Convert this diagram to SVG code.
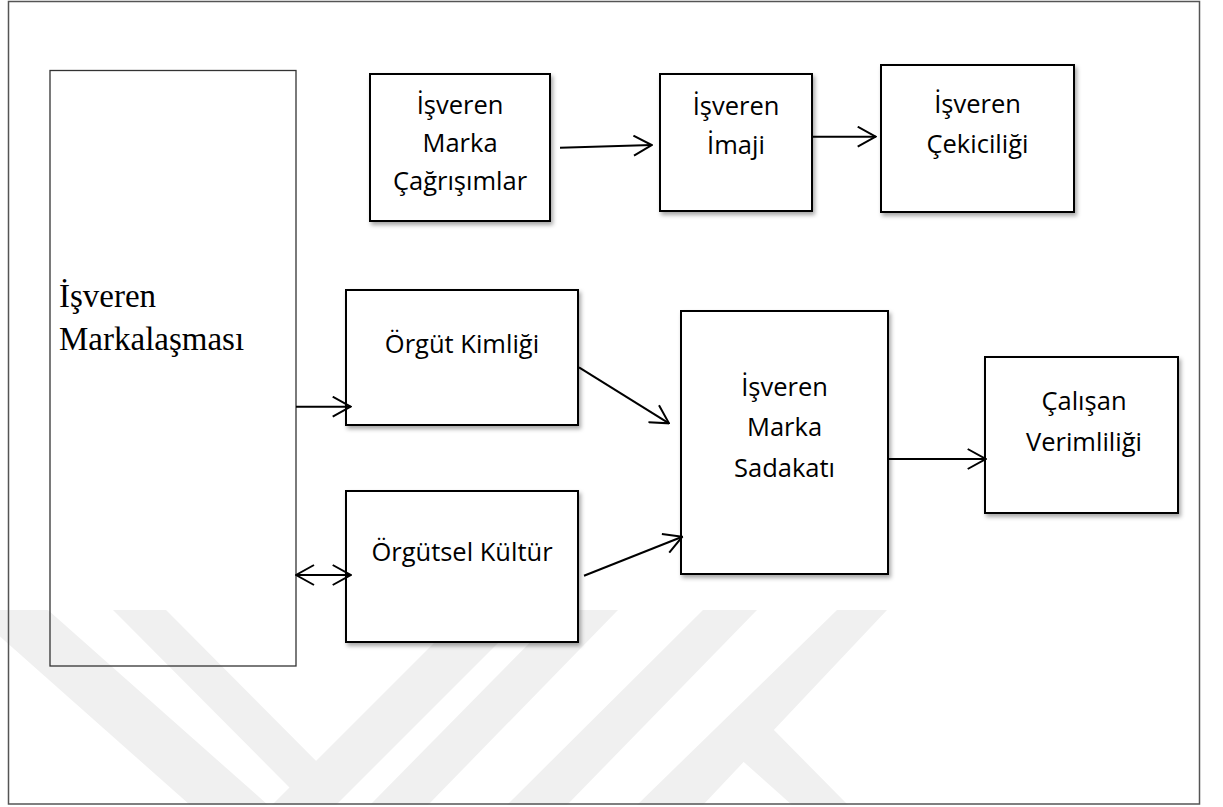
<svg xmlns="http://www.w3.org/2000/svg" width="1223" height="807" viewBox="0 0 1223 807">
  <style>
    .box { fill: #ffffff; stroke: #000000; stroke-width: 2; filter: url(#shadow); }
    .label { font-family: "Open Sans", "Liberation Sans", sans-serif; font-size: 25.5px; fill: #000000; text-anchor: middle; }
    .serif { font-family: "Liberation Serif", "Times New Roman", serif; font-size: 33px; fill: #000000; }
    .link { fill: none; stroke: #000000; stroke-width: 2; marker-end: url(#head); }
    .mark { fill: #f0f0f0; }
  </style>
  <defs>
    <filter id="shadow" x="-10%" y="-10%" width="130%" height="130%">
      <feDropShadow dx="2" dy="3" stdDeviation="2" flood-color="#000000" flood-opacity="0.35"/>
    </filter>
    <marker id="head" viewBox="0 0 20 22" refX="19" refY="11" markerWidth="20" markerHeight="22" markerUnits="userSpaceOnUse" orient="auto-start-reverse">
      <path d="M1,1 L19,11 L1,21" fill="none" stroke="#000000" stroke-width="2"/>
    </marker>
  </defs>

  <rect width="1223" height="807" fill="#ffffff"/>

  <!-- faint background emblem: diagonal bands -->
  <g id="watermark">
    <polygon class="mark" points="-30,610 48,610 268,805 190,805"/>
    <polygon class="mark" points="113,610 166,610 345,790 292,790"/>
    <polygon class="mark" points="272,805 336,805 531,610 467,610"/>
    <polygon class="mark" points="370,805 428,805 618,610 562,610"/>
    <polygon class="mark" points="507,805 567,805 757,610 703,610"/>
    <polygon class="mark" points="637,805 703,805 887,610 837,610"/>
    <polygon class="mark" points="728,748 766,722 848,805 792,805"/>
  </g>

  <!-- outer border -->
  <rect id="frame" x="8.5" y="1.5" width="1191" height="802.5" fill="none" stroke="#555555" stroke-width="1.5"/>

  <g id="isveren-markalasmasi">
    <rect x="50" y="70.5" width="246" height="595.5" fill="none" stroke="#333333" stroke-width="1.3"/>
    <text class="serif" x="59" y="307">İşveren</text>
    <text class="serif" x="59" y="350">Markalaşması</text>
  </g>

  <g id="marka-cagrisimlar">
    <rect class="box" x="370" y="74" width="180" height="147"/>
    <text class="label" x="460" y="114">İşveren</text>
    <text class="label" x="460" y="152">Marka</text>
    <text class="label" x="460" y="190">Çağrışımlar</text>
  </g>

  <g id="isveren-imaji">
    <rect class="box" x="660" y="74" width="152" height="137"/>
    <text class="label" x="736" y="115">İşveren</text>
    <text class="label" x="736" y="154">İmaji</text>
  </g>

  <g id="isveren-cekiciligi">
    <rect class="box" x="881" y="65" width="193" height="147"/>
    <text class="label" x="977.5" y="113">İşveren</text>
    <text class="label" x="977.5" y="153">Çekiciliği</text>
  </g>

  <g id="orgut-kimligi">
    <rect class="box" x="346" y="290" width="232" height="135"/>
    <text class="label" x="462" y="353">Örgüt Kimliği</text>
  </g>

  <g id="orgutsel-kultur">
    <rect class="box" x="346" y="491" width="232" height="151"/>
    <text class="label" x="462" y="561">Örgütsel Kültür</text>
  </g>

  <g id="marka-sadakati">
    <rect class="box" x="681" y="311" width="207" height="263"/>
    <text class="label" x="784.5" y="396">İşveren</text>
    <text class="label" x="784.5" y="436">Marka</text>
    <text class="label" x="784.5" y="477">Sadakatı</text>
  </g>

  <g id="calisan-verimliligi">
    <rect class="box" x="985" y="357" width="193" height="156"/>
    <text class="label" x="1084" y="410">Çalışan</text>
    <text class="label" x="1084" y="451">Verimliliği</text>
  </g>

  <g id="connectors">
    <line class="link" x1="560" y1="147.7" x2="651.7" y2="145"/>
    <line class="link" x1="812" y1="136.7" x2="875.7" y2="136.7"/>
    <line class="link" x1="296" y1="406.7" x2="350.7" y2="406.7"/>
    <line class="link" x1="296" y1="575" x2="350.7" y2="575" marker-start="url(#head)"/>
    <line class="link" x1="579" y1="367.3" x2="669" y2="423.3"/>
    <line class="link" x1="584" y1="575.7" x2="682.3" y2="536.7"/>
    <line class="link" x1="888" y1="459" x2="985.7" y2="459"/>
  </g>
</svg>
